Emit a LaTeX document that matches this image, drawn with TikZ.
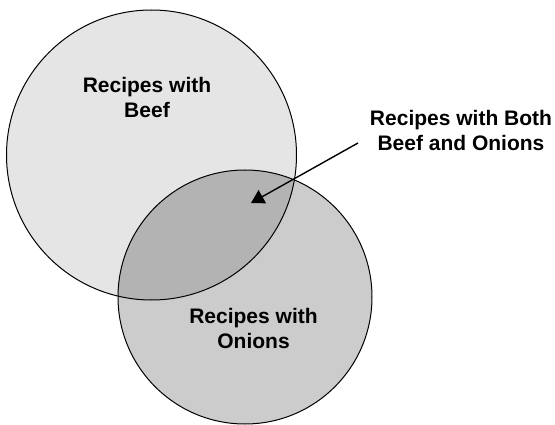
\documentclass[tikz,border=0pt]{standalone}
\usepackage{fontspec}
\setmainfont{Liberation Sans}
\usetikzlibrary{arrows.meta}
\definecolor{beefgray}{HTML}{E5E5E5}
\definecolor{oniongray}{HTML}{CCCCCC}
\definecolor{bothgray}{HTML}{B3B3B3}
\begin{document}
\begin{tikzpicture}[x=1pt,y=-1pt,
  outline/.style={draw=black,line width=1pt},
  setlabel/.style={align=center,inner sep=0pt,
    font=\fontsize{21}{25}\selectfont\bfseries},
  pointer/.style={line width=1.4pt,-{Triangle[length=13pt,width=15pt]}}]
\useasboundingbox (0,0) rectangle (555,425);
% set centres and radii
\coordinate (beef) at (151.5,155);
\coordinate (onions) at (245,297);
\def\beefr{145}
\def\onionr{127}
% fills
\fill[beefgray] (beef) circle[radius=\beefr];
\fill[oniongray] (onions) circle[radius=\onionr];
\begin{scope}
  \clip (beef) circle[radius=\beefr];
  \fill[bothgray] (onions) circle[radius=\onionr];
\end{scope}
% outlines
\draw[outline] (beef) circle[radius=\beefr];
\draw[outline] (onions) circle[radius=\onionr];
% labels
\node[setlabel] (beeflabel) at (147,97) {Recipes with\\Beef};
\node[setlabel] (onionslabel) at (253.5,328) {Recipes with\\Onions};
\node[setlabel] (bothlabel) at (461,130) {Recipes with Both\\Beef and Onions};
% pointer into the overlap
\coordinate (tail) at (358,143);
\coordinate (tip) at (251,203);
\draw[pointer] (tail) -- (tip);
\end{tikzpicture}
\end{document}
